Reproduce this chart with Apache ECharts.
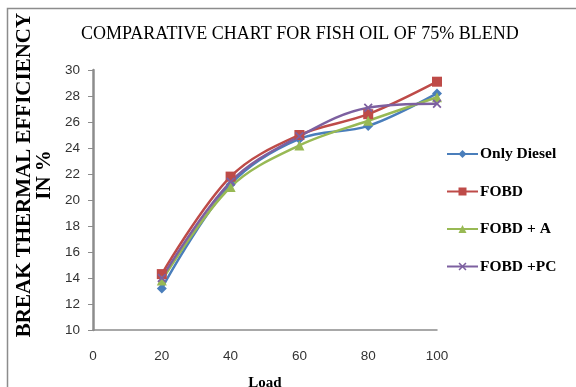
<!DOCTYPE html>
<html>
<head>
<meta charset="utf-8">
<script src="https://cdn.jsdelivr.net/npm/echarts@6/dist/echarts.min.js"></script>
<style>html,body{margin:0;padding:0;background:#fff}#c{width:576px;height:387px}</style>
</head>
<body>
<div id="c"></div>
<script>
const loads = [20, 40, 60, 80, 100];
const onlyDiesel = [13.2, 21.2, 24.7, 25.7, 28.2];
const fobd = [14.3, 21.8, 25.0, 26.6, 29.1];
const fobdA = [13.8, 21.0, 24.2, 26.1, 27.9];
const fobdPC = [14.0, 21.4, 24.9, 27.1, 27.4];
const seriesNames = ['Only Diesel', 'FOBD', 'FOBD + A', 'FOBD +PC'];

const pair = arr => loads.map((x, i) => [x, arr[i]]);
const xMark = 'path://M0,1.4 L1.4,0 L5,3.6 L8.6,0 L10,1.4 L6.4,5 L10,8.6 L8.6,10 L5,6.4 L1.4,10 L0,8.6 L3.6,5 Z';

const chart = echarts.init(document.getElementById('c'));
const mk = (name, data, color, symbol, size) => ({
  name, type: 'line', data: pair(data), smooth: 0.35,
  symbol, symbolSize: size, showSymbol: true,
  lineStyle: { color, width: 2.5 },
  itemStyle: { color },
  emphasis: { disabled: true }
});
chart.setOption({
  animation: false,
  graphic: [{
    type: 'rect', shape: { x: 7.5, y: 8.5, width: 700, height: 500 },
    style: { fill: 'none', stroke: '#8c8c8c', lineWidth: 1.5 }, silent: true
  }],
  title: {
    text: 'COMPARATIVE CHART FOR FISH OIL OF 75% BLEND',
    left: 76, top: 20,
    textStyle: { fontFamily: 'Liberation Serif', fontSize: 18, fontWeight: 'normal', color: '#000' }
  },
  legend: {
    orient: 'vertical', left: 441, top: 141, itemGap: 21.5,
    itemWidth: 31, itemHeight: 10,
    data: seriesNames,
    textStyle: { fontFamily: 'Liberation Serif', fontSize: 15.5, fontWeight: 'bold', color: '#000', padding: [0, 0, 0, -3] }
  },
  grid: { left: 93, right: 139, top: 70, bottom: 57, containLabel: false, outerBoundsMode: 'none' },
  xAxis: {
    type: 'value', min: 0, max: 100, interval: 20,
    name: 'Load', nameLocation: 'middle', nameGap: 46,
    nameTextStyle: { fontFamily: 'Liberation Serif', fontSize: 15, fontWeight: 'bold', color: '#000' },
    axisLine: { lineStyle: { color: '#8c8c8c', width: 1.5 } },
    axisTick: { show: false },
    splitLine: { show: false },
    axisLabel: { fontFamily: 'Liberation Sans', fontSize: 13.5, color: '#333', margin: 19 }
  },
  yAxis: {
    type: 'value', min: 10, max: 30, interval: 2,
    name: 'BREAK THERMAL EFFICIENCY\nIN %', nameLocation: 'middle', nameGap: 38,
    nameMoveOverlap: false,
    nameTextStyle: { fontFamily: 'Liberation Serif', fontSize: 21, fontWeight: 'bold', color: '#000', lineHeight: 20, padding: [0, 0, 0, 50] },
    axisLine: { show: true, lineStyle: { color: '#8c8c8c', width: 2.5 } },
    axisTick: { show: true, inside: false, length: 5, lineStyle: { color: '#8c8c8c', width: 1 } },
    splitLine: { show: false },
    axisLabel: { fontFamily: 'Liberation Sans', fontSize: 13.5, color: '#333', margin: 13 }
  },
  series: [
    mk(seriesNames[0], onlyDiesel, '#4A7EBB', 'diamond', 10),
    mk(seriesNames[1], fobd, '#BE4B48', 'rect', 10),
    mk(seriesNames[2], fobdA, '#98B954', 'triangle', 10),
    mk(seriesNames[3], fobdPC, '#7D60A0', xMark, 9)
  ]
});
</script>
</body>
</html>
